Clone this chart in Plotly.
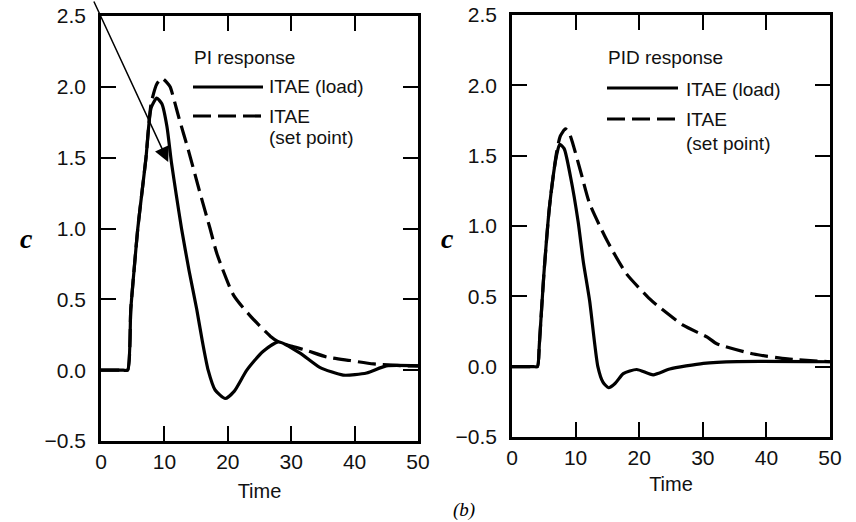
import plotly.graph_objects as go

# PI controller responses (left panel)
pi_load_t = [0, 3.5, 4.2, 4.7, 5.3, 5.8, 6.5, 7.1, 7.9, 8.8, 9.6, 10.4, 11.1, 11.9, 12.7, 13.9,
             15.1, 16.0, 16.9, 18.0, 19.6, 21.0, 23.0, 25.5, 28.0, 31.4, 34.5, 38.2, 41.9, 45.0, 50]
pi_load_c = [0, 0, 0, 0.43, 0.75, 1.0, 1.27, 1.5, 1.85, 1.92, 1.88, 1.72, 1.47, 1.23, 1.0, 0.7,
             0.43, 0.2, 0.0, -0.14, -0.2, -0.15, 0.0, 0.13, 0.2, 0.12, 0.02, -0.035, -0.02, 0.03, 0.03]

pi_sp_t = [0, 3.5, 4.2, 4.7, 5.3, 5.8, 6.5, 7.1, 7.9, 8.8, 9.6, 10.4, 10.9, 12.3, 13.8, 15.5, 17.2,
           18.3, 20.9, 23.5, 26.7, 28.0, 30.0, 32.4, 35.6, 39.3, 43.0, 47.2, 50]
pi_sp_c = [0, 0, 0, 0.43, 0.75, 1.0, 1.27, 1.5, 1.88, 2.02, 2.06, 2.03, 2.0, 1.78, 1.55, 1.27, 1.0,
           0.82, 0.53, 0.385, 0.24, 0.2, 0.17, 0.14, 0.093, 0.068, 0.044, 0.032, 0.03]

# PID controller responses (right panel)
pid_load_t = [0, 3.4, 4.0, 4.3, 5.0, 5.9, 7.0, 7.5, 8.2, 9.2, 10.4, 11.2, 12.2, 13.5, 14.3, 15.2,
              16.2, 17.5, 19.6, 22.2, 24.8, 30.1, 35.4, 50]
pid_load_c = [0, 0, 0, 0.16, 0.65, 1.14, 1.5, 1.58, 1.55, 1.35, 1.03, 0.75, 0.47, 0.0, -0.11, -0.15,
              -0.12, -0.05, -0.02, -0.058, -0.017, 0.024, 0.036, 0.035]

pid_sp_t = [0, 3.4, 4.0, 4.3, 5.0, 5.9, 7.0, 7.6, 8.4, 9.0, 9.6, 10.9, 12.2, 14.9, 18.0, 21.7, 22.7,
            26.9, 30.7, 32.2, 38.0, 43.3, 50]
pid_sp_c = [0, 0, 0, 0.16, 0.65, 1.14, 1.52, 1.64, 1.69, 1.66, 1.58, 1.37, 1.16, 0.9, 0.66, 0.48, 0.44,
            0.295, 0.21, 0.163, 0.09, 0.055, 0.035]

x_ticks = [0, 10, 20, 30, 40, 50]
y_ticks = [-0.5, 0.0, 0.5, 1.0, 1.5, 2.0, 2.5]

W, H = 856, 522
FONT = "Liberation Sans, Arial, sans-serif"
SERIF = "Liberation Serif, Times New Roman, serif"


def px(x):
    return x / W


def py(y):
    return 1 - y / H


fig = go.Figure()

line_w = 3.2
fig.add_trace(go.Scatter(x=pi_load_t, y=pi_load_c, mode="lines", xaxis="x", yaxis="y",
                         line=dict(color="black", width=line_w, shape="spline", smoothing=0.6)))
fig.add_trace(go.Scatter(x=pi_sp_t, y=pi_sp_c, mode="lines", xaxis="x", yaxis="y",
                         line=dict(color="black", width=line_w, dash="18px,7px",
                                   shape="spline", smoothing=0.6)))
fig.add_trace(go.Scatter(x=pid_load_t, y=pid_load_c, mode="lines", xaxis="x2", yaxis="y2",
                         line=dict(color="black", width=line_w, shape="spline", smoothing=0.6)))
fig.add_trace(go.Scatter(x=pid_sp_t, y=pid_sp_c, mode="lines", xaxis="x2", yaxis="y2",
                         line=dict(color="black", width=line_w, dash="18px,7px",
                                   shape="spline", smoothing=0.6)))

axis_common = dict(
    showgrid=False, zeroline=False,
    showline=True, linecolor="black", linewidth=2.5, mirror="ticks",
    ticks="inside", ticklen=15, tickwidth=2, tickcolor="black",
    tickfont=dict(family=FONT, size=21, color="#111"),
    ticklabeloverflow="allow",
)

fig.update_layout(
    width=W, height=H,
    margin=dict(l=0, r=0, t=0, b=0, autoexpand=False),
    paper_bgcolor="white", plot_bgcolor="white",
    showlegend=False,
    xaxis=dict(domain=[px(101), px(418)], range=[0, 50], tickvals=x_ticks,
               title=dict(text="Time", font=dict(family=FONT, size=20, color="#111"), standoff=13),
               ticklabelstandoff=0, anchor="y", **axis_common),
    yaxis=dict(domain=[py(441), py(16)], range=[-0.5, 2.5], tickvals=y_ticks, tickformat=".1f",
               ticklabelstandoff=8, anchor="x", **axis_common),
    xaxis2=dict(domain=[px(512), px(830)], range=[0, 50], tickvals=x_ticks,
                title=dict(text="Time", font=dict(family=FONT, size=20, color="#111"), standoff=10),
                ticklabelstandoff=0, anchor="y2", **axis_common),
    yaxis2=dict(domain=[py(437), py(15)], range=[-0.5, 2.5], tickvals=y_ticks, tickformat=".1f",
                ticklabelstandoff=8, anchor="x2", **axis_common),
)

# hand-drawn style legends inside each panel
legend_rows = [
    # (line x0, line x1, solid y, dash y, text x, response title, title y, load y, itae y, sp y)
    (193, 263, 87, 116, 268, "PI response", 57, 87, 116, 137),
    (607, 678, 88, 119, 685, "PID response", 57, 89, 120, 143),
]
for x0, x1, y_solid, y_dash, tx, title, ty, y_load, y_itae, y_sp in legend_rows:
    fig.add_shape(type="line", xref="paper", yref="paper",
                  x0=px(x0), x1=px(x1), y0=py(y_solid), y1=py(y_solid),
                  line=dict(color="black", width=3.2))
    fig.add_shape(type="line", xref="paper", yref="paper",
                  x0=px(x0), x1=px(x1), y0=py(y_dash), y1=py(y_dash),
                  line=dict(color="black", width=3.2, dash="18px,7px"))
    for txt, xx, yy in [(title, x0, ty), ("ITAE (load)", tx, y_load),
                        ("ITAE", tx, y_itae), ("(set point)", tx, y_sp)]:
        fig.add_annotation(text=txt, xref="paper", yref="paper", x=px(xx), y=py(yy),
                           xanchor="left", yanchor="middle", showarrow=False, borderpad=0,
                           font=dict(family=FONT, size=19, color="#111"))

# axis labels "c" and figure tag
for cx in (27, 447):
    fig.add_annotation(text="<b><i>c</i></b>", xref="paper", yref="paper", x=px(cx), y=py(238),
                       xanchor="center", yanchor="middle", showarrow=False,
                       font=dict(family=SERIF, size=28, color="black"))
fig.add_annotation(text="<i>(b)</i>", xref="paper", yref="paper", x=px(464), y=py(510),
                   xanchor="center", yanchor="middle", showarrow=False,
                   font=dict(family=SERIF, size=19, color="black"))

# pointer arrow into the PI plot
fig.add_annotation(x=10.6, y=1.47, xref="x", yref="y", ax=-75, ay=-172, axref="pixel", ayref="pixel",
                   text="", showarrow=True, arrowhead=2, arrowsize=2, arrowwidth=1.5,
                   arrowcolor="black", standoff=0)

# drop the default page margin so the figure sits at the window's corner
fig.write_html("out.html", config={"displayModeBar": False},
               post_script="document.body.style.margin='0';")
